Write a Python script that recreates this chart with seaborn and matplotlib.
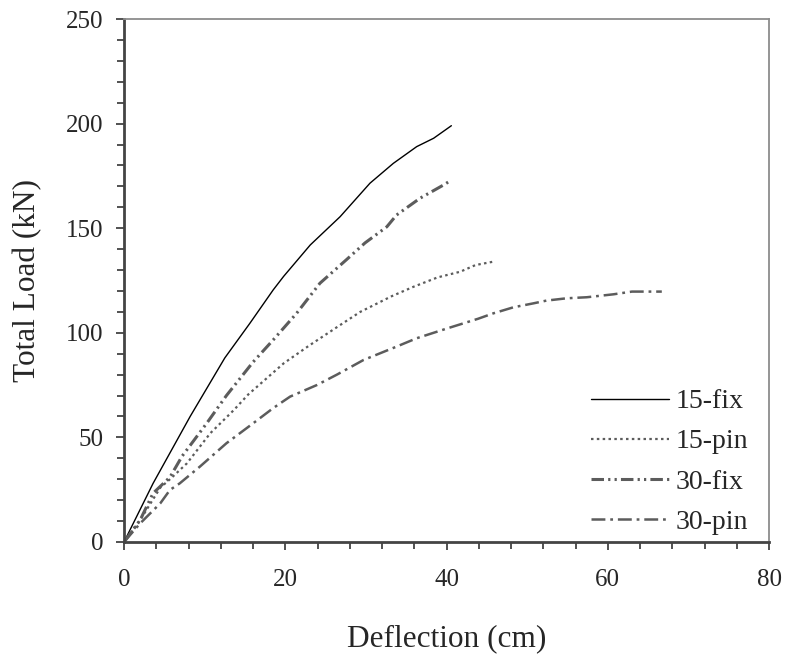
import matplotlib
matplotlib.use("Agg")
import matplotlib.pyplot as plt
import seaborn as sns
import pandas as pd
from matplotlib.ticker import MultipleLocator

fix15_x = [0, 3.6, 8.2, 12.5, 15.6, 18.5, 19.8, 23.1, 26.8, 30.5, 33.4, 36.3, 38.4, 40.6]
fix15_y = [0, 28, 60, 88, 104.5, 120.5, 127, 142, 155.5, 171.5, 181, 189, 193, 199]

pin15_x = [0, 2.0, 4.5, 5.7, 7.8, 10.7, 13.6, 15.4, 19.8, 23.0, 26.8, 29.3, 33.2, 35.9, 38.9, 41.7, 43.6, 45.8]
pin15_y = [0, 10.5, 26, 30, 37.6, 52, 63, 70.5, 85.4, 94, 103.7, 110, 117.5, 122, 126.5, 129.2, 132.4, 134]

fix30_x = [0, 2.0, 3.6, 5.7, 7.2, 10.3, 12.7, 16.0, 18.5, 21.4, 24.3, 27.6, 29.9, 32.6, 33.8, 36.7, 39.6, 40.6]
fix30_y = [0, 10.5, 23.3, 31, 41, 57, 70, 86, 96.6, 109.3, 123.7, 135, 143, 150.7, 156.3, 164.3, 170.6, 173]

pin30_x = [0, 2.0, 4.5, 5.7, 6.9, 9.4, 12.7, 16.0, 18.5, 20.6, 23.9, 26.4, 29.7, 33.8, 36.3, 40.0,
           43.9, 45.8, 48.3, 50.8, 52.4, 54.9, 57.4, 60.7, 63.0, 66.7]
pin30_y = [0, 8.9, 18.5, 24.9, 28, 36, 47.2, 56.7, 64, 69.5, 75, 80, 87, 93.4, 97.4, 102,
           106.7, 109.3, 112.2, 114.1, 115.4, 116.5, 117, 118.4, 119.7, 119.7]

labels = ["15-fix", "15-pin", "30-fix", "30-pin"]
x_ticks = [0, 20, 40, 60, 80]
y_ticks = [0, 50, 100, 150, 200, 250]

sns.set_theme(style="white")
plt.rcParams["font.family"] = ["Liberation Serif", "DejaVu Serif"]
plt.rcParams["lines.scale_dashes"] = False

fig = plt.figure(figsize=(7.89, 6.58), dpi=100)
ax = fig.add_axes([0.1572, 0.1763, 0.8175, 0.7948])

gray = "#5c5c5c"
series = [
    (fix15_x, fix15_y, dict(color="black", linewidth=1.0, linestyle="-")),
    (pin15_x, pin15_y, dict(color=gray, linewidth=1.6, dashes=(1.8, 2.4))),
    (fix30_x, fix30_y, dict(color=gray, linewidth=2.2, dashes=(9, 3, 1.6, 3, 1.6, 3))),
    (pin30_x, pin30_y, dict(color=gray, linewidth=1.8, dashes=(10, 3.5, 2, 3.5))),
]
for (xs, ys, style), lab in zip(series, labels):
    df = pd.DataFrame({"x": xs, "y": ys})
    sns.lineplot(data=df, x="x", y="y", ax=ax, sort=False, label=lab, **style)

ax.set_xlim(0, 80)
ax.set_ylim(0, 250)
ax.set_xticks(x_ticks)
ax.set_yticks(y_ticks)
ax.xaxis.set_minor_locator(MultipleLocator(4))
ax.yaxis.set_minor_locator(MultipleLocator(10))
ax.tick_params(axis="both", which="both", direction="out", color="#333333",
               bottom=True, left=True, labelsize=18)
ax.tick_params(axis="both", which="major", length=5.8, width=1.2)
ax.tick_params(axis="both", which="minor", length=5.0, width=1.2)
ax.tick_params(axis="x", which="major", pad=13.5)
ax.tick_params(axis="y", which="major", pad=9)

for s in ["left", "bottom"]:
    ax.spines[s].set_color("#444444")
    ax.spines[s].set_linewidth(2.0)
for s in ["top", "right"]:
    ax.spines[s].set_color("#8c8c8c")
    ax.spines[s].set_linewidth(1.3)

ax.set_xlabel("Deflection (cm)", fontsize=22.5)
ax.set_ylabel("Total Load (kN)", fontsize=22.5)
ax.xaxis.set_label_coords(0.5, (542 - 639) / 523)
ax.xaxis.label.set_va("center")
ax.yaxis.set_label_coords((27.5 - 124) / 645, 0.5)
ax.yaxis.label.set_va("center")

leg = ax.legend(loc="lower right", bbox_to_anchor=(1.007, -0.034), frameon=False,
                fontsize=20, handlelength=2.8, labelspacing=0.53, handletextpad=0.25)

fig.savefig("out.png", dpi=100)
